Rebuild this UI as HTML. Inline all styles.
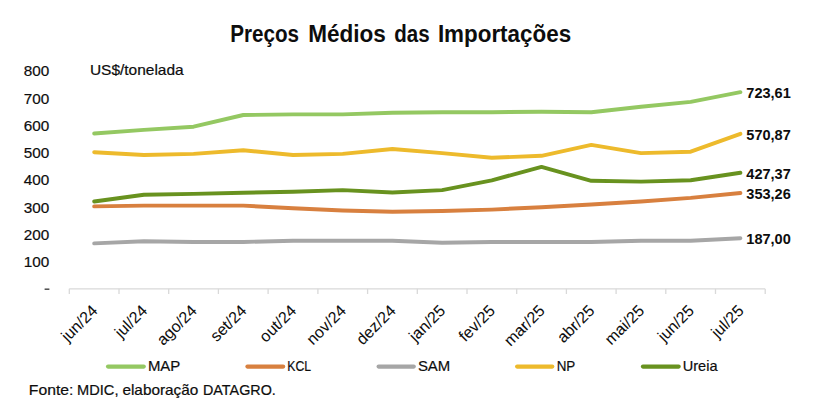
<!DOCTYPE html>
<html><head><meta charset="utf-8"><style>
html,body{margin:0;padding:0;background:#fff;width:829px;height:416px;overflow:hidden}
svg{display:block}
text{font-family:"Liberation Sans", sans-serif;fill:#0d0d0d}
</style></head><body>
<svg width="829" height="416" viewBox="0 0 829 416">
<rect width="829" height="416" fill="#fff"/>
<text x="230.30" y="41.6" font-size="23" font-weight="bold" textLength="68.80" lengthAdjust="spacingAndGlyphs">Preços</text>
<text x="308.30" y="41.6" font-size="23" font-weight="bold" textLength="77.60" lengthAdjust="spacingAndGlyphs">Médios</text>
<text x="394.20" y="41.6" font-size="23" font-weight="bold" textLength="35.40" lengthAdjust="spacingAndGlyphs">das</text>
<text x="437.90" y="41.6" font-size="23" font-weight="bold" textLength="133.20" lengthAdjust="spacingAndGlyphs">Importações</text>
<text x="89.90" y="74.5" font-size="14.5" stroke="#0d0d0d" stroke-width="0.2" textLength="93.80" lengthAdjust="spacingAndGlyphs">US$/tonelada</text>
<text x="28.80" y="395" font-size="14.2" stroke="#0d0d0d" stroke-width="0.2" textLength="44.60" lengthAdjust="spacingAndGlyphs">Fonte:</text>
<text x="77.10" y="395" font-size="14.2" stroke="#0d0d0d" stroke-width="0.2" textLength="41.40" lengthAdjust="spacingAndGlyphs">MDIC,</text>
<text x="122.40" y="395" font-size="14.2" stroke="#0d0d0d" stroke-width="0.2" textLength="76.00" lengthAdjust="spacingAndGlyphs">elaboração</text>
<text x="203.00" y="395" font-size="14.2" stroke="#0d0d0d" stroke-width="0.2" textLength="72.80" lengthAdjust="spacingAndGlyphs">DATAGRO.</text>
<text x="147.90" y="370.9" font-size="15" stroke="#0d0d0d" stroke-width="0.2" textLength="32.40" lengthAdjust="spacingAndGlyphs">MAP</text>
<text x="287.30" y="370.9" font-size="15" stroke="#0d0d0d" stroke-width="0.2" textLength="23.80" lengthAdjust="spacingAndGlyphs">KCL</text>
<text x="417.90" y="370.9" font-size="15" stroke="#0d0d0d" stroke-width="0.2" textLength="32.40" lengthAdjust="spacingAndGlyphs">SAM</text>
<text x="556.70" y="370.9" font-size="15" stroke="#0d0d0d" stroke-width="0.2" textLength="18.60" lengthAdjust="spacingAndGlyphs">NP</text>
<text x="682.70" y="370.9" font-size="15" stroke="#0d0d0d" stroke-width="0.2" textLength="34.80" lengthAdjust="spacingAndGlyphs">Ureia</text>
<text x="49.4" y="266.9" font-size="15.3" text-anchor="end" stroke="#0d0d0d" stroke-width="0.2">100</text>
<text x="49.4" y="239.7" font-size="15.3" text-anchor="end" stroke="#0d0d0d" stroke-width="0.2">200</text>
<text x="49.4" y="212.5" font-size="15.3" text-anchor="end" stroke="#0d0d0d" stroke-width="0.2">300</text>
<text x="49.4" y="185.3" font-size="15.3" text-anchor="end" stroke="#0d0d0d" stroke-width="0.2">400</text>
<text x="49.4" y="158.1" font-size="15.3" text-anchor="end" stroke="#0d0d0d" stroke-width="0.2">500</text>
<text x="49.4" y="130.8" font-size="15.3" text-anchor="end" stroke="#0d0d0d" stroke-width="0.2">600</text>
<text x="49.4" y="103.6" font-size="15.3" text-anchor="end" stroke="#0d0d0d" stroke-width="0.2">700</text>
<text x="49.4" y="76.4" font-size="15.3" text-anchor="end" stroke="#0d0d0d" stroke-width="0.2">800</text>
<rect x="44.6" y="288.6" width="4.8" height="1.1" fill="#0d0d0d"/>
<path d="M69.3 288.8 H765" stroke="#D9D9D9" stroke-width="1.3" fill="none"/>
<path d="M69.3 288.8 V294 M119.0 288.8 V294 M168.7 288.8 V294 M218.4 288.8 V294 M268.1 288.8 V294 M317.9 288.8 V294 M367.6 288.8 V294 M417.3 288.8 V294 M467.0 288.8 V294 M516.7 288.8 V294 M566.4 288.8 V294 M616.1 288.8 V294 M665.8 288.8 V294 M715.5 288.8 V294 M765.2 288.8 V294" stroke="#D9D9D9" stroke-width="1.3" fill="none"/>
<text transform="translate(98.5 311.7) rotate(-45)" font-size="16" text-anchor="end" stroke="#0d0d0d" stroke-width="0.05">jun/24</text>
<text transform="translate(148.2 311.7) rotate(-45)" font-size="16" text-anchor="end" stroke="#0d0d0d" stroke-width="0.05">jul/24</text>
<text transform="translate(197.9 311.7) rotate(-45)" font-size="16" text-anchor="end" stroke="#0d0d0d" stroke-width="0.05">ago/24</text>
<text transform="translate(247.6 311.7) rotate(-45)" font-size="16" text-anchor="end" stroke="#0d0d0d" stroke-width="0.05">set/24</text>
<text transform="translate(297.3 311.7) rotate(-45)" font-size="16" text-anchor="end" stroke="#0d0d0d" stroke-width="0.05">out/24</text>
<text transform="translate(347.0 311.7) rotate(-45)" font-size="16" text-anchor="end" stroke="#0d0d0d" stroke-width="0.05">nov/24</text>
<text transform="translate(396.7 311.7) rotate(-45)" font-size="16" text-anchor="end" stroke="#0d0d0d" stroke-width="0.05">dez/24</text>
<text transform="translate(446.4 311.7) rotate(-45)" font-size="16" text-anchor="end" stroke="#0d0d0d" stroke-width="0.05">jan/25</text>
<text transform="translate(496.1 311.7) rotate(-45)" font-size="16" text-anchor="end" stroke="#0d0d0d" stroke-width="0.05">fev/25</text>
<text transform="translate(545.8 311.7) rotate(-45)" font-size="16" text-anchor="end" stroke="#0d0d0d" stroke-width="0.05">mar/25</text>
<text transform="translate(595.6 311.7) rotate(-45)" font-size="16" text-anchor="end" stroke="#0d0d0d" stroke-width="0.05">abr/25</text>
<text transform="translate(645.3 311.7) rotate(-45)" font-size="16" text-anchor="end" stroke="#0d0d0d" stroke-width="0.05">mai/25</text>
<text transform="translate(695.0 311.7) rotate(-45)" font-size="16" text-anchor="end" stroke="#0d0d0d" stroke-width="0.05">jun/25</text>
<text transform="translate(744.7 311.7) rotate(-45)" font-size="16" text-anchor="end" stroke="#0d0d0d" stroke-width="0.05">jul/25</text>
<polyline points="94.2,243.4 143.9,241.2 193.6,242.0 243.3,242.0 293.0,240.7 342.7,240.7 392.4,240.7 442.1,242.8 491.8,242.0 541.5,242.0 591.3,242.0 641.0,240.7 690.7,240.7 740.4,238.2" fill="none" stroke="#A6A6A6" stroke-width="3.9" stroke-linejoin="round" stroke-linecap="round"/>
<polyline points="94.2,206.4 143.9,205.6 193.6,205.6 243.3,205.6 293.0,208.3 342.7,210.5 392.4,211.8 442.1,211.0 491.8,209.6 541.5,207.2 591.3,204.5 641.0,201.5 690.7,197.9 740.4,193.0" fill="none" stroke="#D8803F" stroke-width="3.9" stroke-linejoin="round" stroke-linecap="round"/>
<polyline points="94.2,152.2 143.9,155.0 193.6,153.9 243.3,150.3 293.0,155.0 342.7,153.9 392.4,149.0 442.1,153.1 491.8,157.7 541.5,155.8 591.3,144.9 641.0,153.1 690.7,151.7 740.4,133.8" fill="none" stroke="#EDBA2C" stroke-width="3.9" stroke-linejoin="round" stroke-linecap="round"/>
<polyline points="94.2,133.5 143.9,129.9 193.6,126.7 243.3,115.0 293.0,114.4 342.7,114.4 392.4,112.8 442.1,112.2 491.8,112.2 541.5,111.7 591.3,112.2 641.0,106.8 690.7,101.9 740.4,92.2" fill="none" stroke="#94C862" stroke-width="3.9" stroke-linejoin="round" stroke-linecap="round"/>
<polyline points="94.2,201.5 143.9,194.7 193.6,193.9 243.3,192.8 293.0,191.7 342.7,190.1 392.4,192.5 442.1,190.1 491.8,180.3 541.5,166.9 591.3,180.8 641.0,181.6 690.7,180.3 740.4,172.8" fill="none" stroke="#68921F" stroke-width="3.9" stroke-linejoin="round" stroke-linecap="round"/>
<text x="746.3" y="98.1" font-size="15" font-weight="bold" textLength="44.5" lengthAdjust="spacingAndGlyphs">723,61</text>
<text x="746.3" y="139.7" font-size="15" font-weight="bold" textLength="44.5" lengthAdjust="spacingAndGlyphs">570,87</text>
<text x="746.3" y="178.7" font-size="15" font-weight="bold" textLength="44.5" lengthAdjust="spacingAndGlyphs">427,37</text>
<text x="746.3" y="198.9" font-size="15" font-weight="bold" textLength="44.5" lengthAdjust="spacingAndGlyphs">353,26</text>
<text x="746.3" y="244.1" font-size="15" font-weight="bold" textLength="44.5" lengthAdjust="spacingAndGlyphs">187,00</text>
<path d="M108.0 366.6 H143.8" stroke="#94C862" stroke-width="4.1" stroke-linecap="round"/>
<path d="M247.4 366.6 H283.2" stroke="#D8803F" stroke-width="4.1" stroke-linecap="round"/>
<path d="M378.6 366.6 H413.8" stroke="#A6A6A6" stroke-width="4.1" stroke-linecap="round"/>
<path d="M517.1 366.6 H552.3" stroke="#EDBA2C" stroke-width="4.1" stroke-linecap="round"/>
<path d="M642.9 366.6 H678.7" stroke="#68921F" stroke-width="4.1" stroke-linecap="round"/>
</svg></body></html>
